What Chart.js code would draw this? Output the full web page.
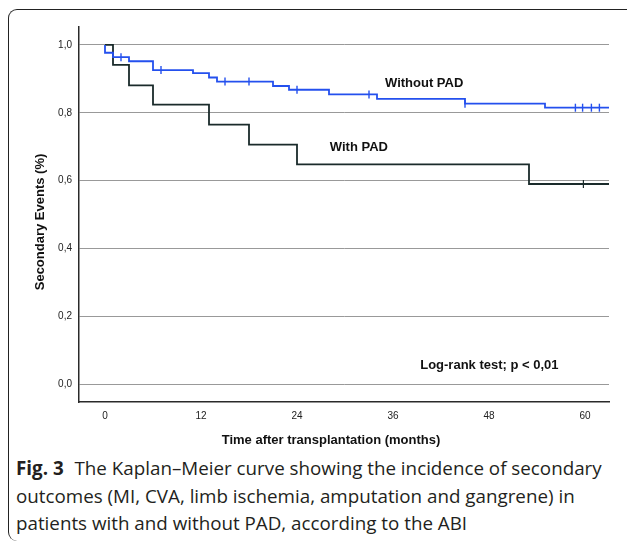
<!DOCTYPE html>
<html>
<head>
<meta charset="utf-8">
<script src="https://cdn.jsdelivr.net/npm/chart.js@4/dist/chart.umd.min.js"></script>
<style>
  html, body { margin: 0; padding: 0; background: #fff; }
  body { width: 627px; height: 542px; position: relative; overflow: hidden; }
  .frame {
    position: absolute; left: 8px; top: 9px; width: 660px; height: 532px;
    border-top: 1.5px solid #222; border-left: 1.5px solid #222;
    border-radius: 9px 0 0 9px; box-sizing: border-box;
  }
  .chart-box { position: absolute; left: 0; top: 0; width: 627px; height: 452px; }
  .caption {
    position: absolute; left: 16px; top: 455px; width: 610px;
    font-family: 'Open Sans', sans-serif; font-size: 18.8px; line-height: 27.5px; color: #231f20;
    white-space: nowrap;
  }
  .caption b { font-weight: 700; margin-right: 6px; }
</style>
</head>
<body>
<div class="frame"></div>
<div class="chart-box"><canvas id="kmChart"></canvas></div>
<div class="caption"><b>Fig. 3</b> The Kaplan–Meier curve showing the incidence of secondary<br>outcomes (MI, CVA, limb ischemia, amputation and gangrene) in<br>patients with and without PAD, according to the ABI</div>
<script>
// ========= Data (months, survival fraction) =========
const withoutPadTimes = [0, 0, 1, 3, 6, 11, 13, 14, 21, 23, 28, 34, 45, 55, 63];
const withoutPadValues = [1.0, 0.977, 0.964, 0.952, 0.926, 0.917, 0.904, 0.892, 0.879, 0.868, 0.854, 0.841, 0.827, 0.815, 0.815];
const withoutPadCensorTimes = [2, 7, 15, 18, 24, 33, 45, 58.8, 59.7, 60.8, 61.8];
const withoutPadCensorValues = [0.964, 0.926, 0.892, 0.892, 0.868, 0.854, 0.827, 0.815, 0.815, 0.815, 0.815];

const withPadTimes = [0, 1, 3, 6, 13, 18, 24, 53, 63];
const withPadValues = [1.0, 0.941, 0.881, 0.824, 0.765, 0.706, 0.648, 0.590, 0.590];
const withPadCensorTimes = [59.8];
const withPadCensorValues = [0.590];

const xTickValues = [0, 12, 24, 36, 48, 60];
const yTickValues = [0, 0.2, 0.4, 0.6, 0.8, 1.0];

const toPoints = (xs, ys) => xs.map((x, i) => ({ x, y: ys[i] }));

const colors = {
  blue: '#2450ee',
  dark: '#1a2b2b',
  grid: '#999',
  axis: '#2a2a2a',
  text: '#111'
};
const FONT = "'Liberation Sans', Arial, sans-serif";

// text drawn over the plot: labels, axis titles
const textPlugin = {
  id: 'kmText',
  afterDraw(chart) {
    const { ctx, scales: { x, y } } = chart;
    ctx.save();
    ctx.fillStyle = colors.text;
    ctx.textBaseline = 'middle';
    ctx.textAlign = 'left';
    ctx.font = `bold 13px ${FONT}`;
    ctx.fillText('Without PAD', x.getPixelForValue(35), y.getPixelForValue(0.888));
    ctx.fillText('With PAD', x.getPixelForValue(28.1), y.getPixelForValue(0.697));
    ctx.fillText('Log-rank test; p < 0,01', x.getPixelForValue(39.4), y.getPixelForValue(0.056));

    ctx.textAlign = 'center';
    ctx.fillText('Time after transplantation (months)', 331, 440);

    ctx.translate(40, 222);
    ctx.rotate(-Math.PI / 2);
    ctx.font = `bold 13px ${FONT}`;
    ctx.fillText('Secondary Events (%)', 0, 0);
    ctx.restore();
  }
};

new Chart(document.getElementById('kmChart'), {
  type: 'line',
  data: {
    datasets: [
      {
        label: 'Without PAD',
        data: toPoints(withoutPadTimes, withoutPadValues),
        borderColor: colors.blue,
        borderWidth: 1.8,
        stepped: 'before',
        pointRadius: 0,
        fill: false
      },
      {
        label: 'With PAD',
        data: toPoints(withPadTimes, withPadValues),
        borderColor: colors.dark,
        borderWidth: 1.8,
        stepped: 'before',
        pointRadius: 0,
        fill: false
      },
      {
        label: 'Without PAD censored',
        data: toPoints(withoutPadCensorTimes, withoutPadCensorValues),
        showLine: false,
        pointStyle: 'line',
        rotation: 90,
        pointRadius: 4,
        borderColor: colors.blue,
        pointBorderWidth: 1.4
      },
      {
        label: 'With PAD censored',
        data: toPoints(withPadCensorTimes, withPadCensorValues),
        showLine: false,
        pointStyle: 'line',
        rotation: 90,
        pointRadius: 4,
        borderColor: colors.dark,
        pointBorderWidth: 1.2
      }
    ]
  },
  options: {
    responsive: true,
    maintainAspectRatio: false,
    animation: false,
    layout: { padding: { top: 27, right: 18, left: 0, bottom: 0 } },
    plugins: {
      legend: { display: false },
      tooltip: { enabled: false }
    },
    scales: {
      x: {
        type: 'linear',
        min: -3.25,
        max: 63,
        afterBuildTicks: (s) => { s.ticks = xTickValues.map(v => ({ value: v })); },
        afterFit: (s) => { s.height = 50; },
        grid: { display: false, drawTicks: false },
        border: { display: true, color: colors.axis, width: 1.5 },
        ticks: { padding: 8, color: '#222', font: { family: FONT, size: 10 } }
      },
      y: {
        min: -0.053,
        max: 1.053,
        afterBuildTicks: (s) => { s.ticks = yTickValues.map(v => ({ value: v })); },
        afterFit: (s) => { s.width = 79; },
        grid: { color: colors.grid, lineWidth: 1, drawTicks: false },
        border: { display: true, color: colors.axis, width: 1.5 },
        ticks: {
          padding: 7,
          color: '#222',
          font: { family: FONT, size: 10 },
          callback: (v) => v.toFixed(1).replace('.', ',')
        }
      }
    }
  },
  plugins: [textPlugin]
});
</script>
</body>
</html>
